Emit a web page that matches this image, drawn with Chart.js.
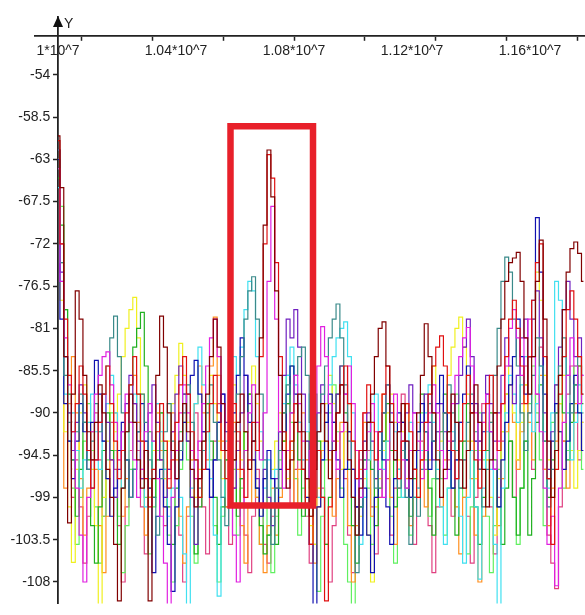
<!DOCTYPE html>
<html lang="en">
<head>
<meta charset="UTF-8">
<title>Spectrum traces</title>
<script src="https://cdn.jsdelivr.net/npm/chart.js"></script>
<style>
  html, body { margin: 0; padding: 0; background: #fff; }
  .chart-box { position: relative; width: 585px; height: 615px; }
</style>
</head>
<body>
<div class="chart-box">
  <canvas id="spectrum"></canvas>
</div>
<script>
// frequency grid of the sweep (Hz)
const freqStart = 1.0e7;
const freqStep = 13000;

// axis ticks
const yTicks = [-54, -58.5, -63, -67.5, -72, -76.5, -81, -85.5, -90, -94.5, -99, -103.5, -108];
const xLabelTicks = [1.0e7, 1.04e7, 1.08e7, 1.12e7, 1.16e7];
const xMarkTicks = [1.008e7, 1.032e7, 1.056e7, 1.08e7, 1.104e7, 1.128e7, 1.152e7, 1.176e7];

// highlight box around the peak
const boxX = [1.05847e7, 1.08644e7, 1.08644e7, 1.05847e7, 1.05847e7];
const boxY = [-59.48, -59.48, -99.85, -99.85, -59.48];

// level traces, dBm (one value per sweep step)
const traceMaroon = [
  -60.5, -66, -84, -101.7, -88, -77, -80, -86, -92, -95,
  -91, -87, -90, -96, -99, -104, -110, -98, -92, -88,
  -91, -95, -98, -94, -110, -97, -86, -79.7, -83, -90,
  -94, -97, -93, -89, -92, -96, -100, -97, -93, -88,
  -84, -80, -83, -89, -94, -98, -95, -91, -88, -92,
  -96, -93, -88, -82, -70, -62, -67, -77, -86, -94,
  -98, -95, -91, -88, -92, -97, -101, -96, -92, -89,
  -93, -97, -94, -90, -87, -91, -95, -99, -103, -98,
  -94, -91, -88, -84, -81, -80.3, -85, -91, -95, -92,
  -89, -93, -97, -94, -90, -86, -80.5, -84, -90, -95,
  -99, -96, -92, -88, -91, -95, -98, -94, -90, -87,
  -91, -96, -100, -95, -90, -85, -80, -76, -74, -73.5,
  -72.9, -76, -82, -88, -84, -76, -71.6, -80, -93, -99,
  -94, -86, -79, -75, -72.5, -71.8, -73, -76
];
const traceRed = [
  -61, -72, -80, -86, -92, -89, -85, -88, -94, -98,
  -95, -91, -88, -85, -89, -93, -97, -94, -90, -87,
  -84, -88, -93, -97, -100, -96, -92, -89, -93, -98,
  -95, -91, -87, -84, -88, -92, -95, -99, -96, -92,
  -89, -86, -90, -94, -97, -93, -89, -92, -96, -99,
  -95, -91, -94, -84, -72, -62.5, -65, -74, -84, -92,
  -96, -93, -89, -92, -96, -100, -104, -99, -94, -99,
  -110, -100, -94, -90, -87, -85, -89, -93, -97, -94,
  -90, -87, -91, -95, -92, -88, -85, -89, -94, -97,
  -93, -89, -92, -96, -99, -95, -91, -88, -85, -83,
  -81.8, -85, -90, -94, -97, -93, -89, -86, -90, -95,
  -98, -94, -89, -86, -90, -94, -89, -84, -80, -78,
  -81, -85, -89, -84, -78, -74, -72, -84, -97, -104,
  -96, -88, -84, -79, -77, -80, -84, -88
];
const traceCyan = [
  -66, -76, -88, -93, -90, -94, -98, -95, -91, -88,
  -92, -96, -93, -89, -86, -90, -94, -98, -95, -91,
  -88, -92, -96, -100, -97, -93, -89, -92, -96, -101,
  -98, -94, -99, -105, -112, -98, -89, -83, -87, -92,
  -97, -103, -109.5, -99, -93, -88, -84, -86, -83, -79,
  -76, -77, -84, -92, -98, -95, -100, -96, -92, -89,
  -86, -83, -87, -91, -95, -92, -88, -94, -99, -95,
  -91, -87, -84, -82, -81, -80.3, -84, -90, -97, -104,
  -99, -95, -91, -88, -92, -96, -93, -89, -92, -96,
  -99, -95, -91, -94, -98, -94, -90, -87, -91, -96,
  -100, -104, -98, -92, -95, -101, -106, -99, -94, -100,
  -107.7, -98, -92, -96, -104, -112, -98, -90, -86, -88,
  -91, -87, -84, -88, -92, -89, -85, -92, -98, -90,
  -76, -78, -84, -90, -95, -91, -87, -90
];
const traceTeal = [
  -62, -74, -86, -91, -95, -92, -88, -91, -96, -93,
  -89, -92, -88, -85, -82, -79.7, -84, -90, -95, -99,
  -96, -92, -88, -91, -95, -99, -103, -97, -92, -89,
  -93, -97, -94, -90, -87, -91, -95, -98, -94, -90,
  -87, -91, -95, -99, -102, -97, -92, -88, -84, -80,
  -77, -75.5, -80, -88, -95, -100, -104, -98, -94, -90,
  -87, -90, -86, -84, -83, -86, -91, -95, -92, -88,
  -85, -82, -80, -78.4, -82, -87, -93, -99, -107, -100,
  -95, -91, -94, -98, -94, -90, -87, -91, -95, -98,
  -94, -99, -104, -99, -101, -96, -92, -89, -93, -97,
  -94, -90, -87, -90, -94, -98, -95, -91, -88, -92,
  -96, -100, -96, -91, -86, -81, -76, -73.4, -75, -80,
  -85, -90, -94, -90, -86, -82, -85, -93, -100, -96,
  -90, -85, -82, -86, -90, -87, -84, -88
];
const traceGreen = [
  -65, -70, -79, -88, -95, -101, -96, -91, -95, -102,
  -106, -100, -94, -90, -94, -99, -104, -98, -92, -87,
  -83, -81, -79.3, -85, -92, -99, -95, -90, -94, -100,
  -104, -98, -92, -88, -93, -99, -105, -100, -94, -89,
  -93, -99, -104, -100, -95, -90, -95, -101, -97, -92,
  -88, -93, -98, -102, -105, -103, -100, -104, -98, -93,
  -89, -85, -89, -95, -101, -97, -92, -88, -93, -99,
  -104, -99, -93, -88, -85, -90, -96, -102, -106, -100,
  -95, -91, -96, -102, -98, -93, -89, -94, -100, -96,
  -91, -95, -101, -97, -92, -88, -92, -98, -103, -97,
  -92, -88, -92, -98, -103, -98, -93, -89, -94, -100,
  -104, -99, -94, -90, -95, -100, -104, -98, -93, -99,
  -103, -98, -93, -103, -97, -91, -87, -93, -99, -95,
  -90, -86, -90, -95, -91, -87, -85, -89
];
const traceYellow = [
  -63, -78, -92, -100, -105.9, -96, -90, -87, -91, -96,
  -102, -112, -99, -93, -89, -92, -88, -84, -81, -79,
  -77.7, -82, -88, -94, -98, -94, -90, -93, -97, -93,
  -89, -86, -82.6, -86, -91, -95, -99, -96, -92, -89,
  -86, -89, -93, -97, -94, -90, -87, -91, -95, -92,
  -88, -85, -89, -93, -97, -100, -96, -93, -90, -93,
  -97, -93, -89, -92, -96, -99, -102, -104, -98, -93,
  -89, -86, -89, -93, -96, -92, -89, -93, -97, -101,
  -97, -103, -108, -100, -97, -94, -90, -88, -91, -95,
  -92, -89, -92, -96, -99, -95, -91, -88, -85, -89,
  -93, -90, -86, -83, -81, -79.8, -83, -88, -93, -97,
  -94, -91, -95, -99, -103, -97, -92, -88, -85, -90,
  -95, -91, -87, -84, -80, -75, -78, -86, -95, -99,
  -94, -89, -86, -90, -94, -98, -94, -91
];
const traceMagenta = [
  -64, -76, -82, -87, -92, -98, -103, -108, -99, -92,
  -88, -86, -84, -83.5, -87, -91, -95, -92, -88, -91,
  -95, -99, -96, -92, -89, -93, -97, -101, -106, -112,
  -99, -94, -90, -87, -90, -94, -97, -93, -89, -85,
  -82, -80, -84, -89, -94, -98, -103, -108, -100, -94,
  -90, -87, -91, -95, -90, -76, -68, -80, -92, -98,
  -94, -90, -86, -89, -93, -97, -94, -90, -85, -80.8,
  -84, -89, -93, -96, -92, -88, -85, -89, -94, -99,
  -96, -92, -89, -92, -96, -99, -95, -91, -88, -91,
  -95, -98, -94, -90, -93, -97, -94, -90, -87, -90,
  -94, -97, -93, -89, -86, -84, -82, -80.9, -85, -90,
  -95, -91, -88, -92, -96, -93, -89, -85, -81, -79,
  -82, -86, -82, -80, -84, -88, -92, -98, -104, -101,
  -108.4, -98, -91, -86, -82, -85, -89, -86
];
const tracePurple = [
  -62, -75, -84, -90, -94, -91, -87, -90, -94, -98,
  -95, -91, -88, -91, -95, -99, -96, -92, -89, -86,
  -89, -93, -97, -94, -90, -87, -91, -95, -99, -96,
  -92, -88, -85, -88, -93, -99, -104, -97, -92, -96,
  -99, -95, -91, -88, -91, -95, -98, -94, -90, -86,
  -89, -93, -97, -100, -96, -99, -102, -97, -92, -86,
  -80, -82, -79, -83, -88, -93, -97, -94, -90, -87,
  -90, -94, -91, -88, -85, -88, -92, -96, -100, -97,
  -93, -90, -93, -97, -94, -90, -87, -90, -94, -97,
  -93, -90, -87, -90, -94, -91, -88, -91, -95, -92,
  -89, -92, -96, -93, -89, -86, -83, -80, -84, -89,
  -93, -90, -86, -89, -93, -90, -86, -82, -85, -89,
  -86, -82, -80, -84, -80, -77, -82, -90, -96, -92,
  -87, -83, -79, -76, -80, -84, -82, -86
];
const traceBlue = [
  -63, -80, -89, -93, -97, -93, -89, -92, -96, -91,
  -84.4, -88, -93, -97, -101, -98, -94, -91, -95, -99,
  -96, -92, -89, -93, -98, -107, -101, -96, -100, -104,
  -109, -100, -95, -91, -88, -86, -84.4, -88, -92, -96,
  -99, -95, -91, -88, -92, -96, -90, -86, -82, -86,
  -91, -95, -98, -101, -97, -94, -97, -100, -96, -92,
  -88, -85, -88, -92, -96, -99, -104, -112, -100, -95,
  -91, -88, -91, -95, -99, -96, -92, -96, -100, -103,
  -98, -103, -107, -99, -92, -95, -100, -104, -97, -90,
  -91, -95, -99, -96, -92, -89, -92, -96, -93, -89,
  -86, -90, -94, -98, -95, -91, -88, -85, -89, -93,
  -96, -92, -88, -92, -96, -100, -95, -91, -87, -84,
  -80, -84, -88, -84, -78, -69.2, -75, -88, -97, -93,
  -89, -92, -96, -93, -89, -86, -90, -94
];
const traceLime = [
  -64, -68, -79, -90, -98, -104, -99, -93, -89, -94,
  -100, -106, -101, -95, -90, -94, -101, -107, -102, -96,
  -91, -88, -93, -99, -105, -100, -94, -90, -96, -103,
  -108, -102, -96, -91, -95, -101, -106, -99, -93, -89,
  -95, -102, -108, -101, -95, -91, -96, -103, -98, -92,
  -88, -93, -99, -104, -100, -103, -107, -101, -95, -90,
  -86, -91, -97, -103, -98, -93, -98, -104, -109, -101,
  -95, -90, -87, -92, -98, -104, -108, -111, -103, -97,
  -93, -98, -104, -99, -94, -90, -95, -101, -106, -99,
  -94, -98, -103, -99, -94, -90, -95, -101, -97, -92,
  -97, -103, -98, -93, -88, -93, -99, -105, -100, -94,
  -90, -95, -101, -107, -102, -96, -92, -88, -93, -99,
  -104, -98, -93, -89, -85, -90, -95, -102, -97, -91,
  -87, -92, -98, -94, -89, -85, -90, -96
];
const tracePink = [
  -62, -72, -84, -93, -99, -95, -100, -106, -101, -95,
  -90, -95, -101, -97, -91, -96, -102, -108, -100, -94,
  -89, -94, -100, -105, -99, -94, -90, -95, -102, -97,
  -92, -97, -103, -108, -101, -95, -90, -94, -100, -105,
  -99, -93, -89, -94, -100, -104, -98, -93, -97, -103,
  -107, -101, -96, -100, -104, -106, -101, -98, -94, -90,
  -94, -100, -96, -91, -95, -101, -106, -100, -94, -98,
  -104, -108, -102, -96, -92, -97, -103, -107, -100, -95,
  -90, -94, -100, -105, -99, -93, -97, -103, -98, -92,
  -88, -93, -99, -104, -98, -93, -96, -102, -107, -100,
  -94, -90, -95, -101, -97, -91, -95, -101, -106, -99,
  -93, -89, -94, -100, -105, -99, -93, -88, -93, -99,
  -95, -89, -85, -90, -96, -88, -83, -96, -103, -106,
  -108.7, -100, -93, -88, -85, -90, -95, -91
];
const traceOrange = [
  -63, -74, -98, -89, -84, -90, -97, -103, -98, -92,
  -96, -102, -107, -101, -95, -90, -95, -101, -97, -91,
  -86, -91, -97, -103, -99, -94, -89, -94, -100, -96,
  -90, -95, -101, -106, -100, -94, -89, -85, -90, -95,
  -85, -79.8, -86, -93, -100, -96, -91, -96, -102, -106,
  -100, -95, -99, -104, -107, -102, -98, -103, -99, -93,
  -89, -94, -100, -96, -90, -95, -101, -106, -100, -94,
  -90, -95, -101, -97, -91, -96, -102, -108, -102, -96,
  -91, -95, -101, -97, -92, -88, -93, -99, -104, -98,
  -93, -97, -102, -96, -91, -95, -100, -95, -90, -94,
  -100, -95, -90, -94, -100, -105, -99, -93, -97, -103,
  -108, -101, -95, -91, -96, -102, -97, -92, -87, -91,
  -96, -92, -87, -91, -95, -89, -86, -96, -102, -98,
  -93, -89, -93, -98, -94, -89, -85, -90
];

// drawn first = on top
const traces = [
  [traceMaroon, '#800000'],
  [traceRed, '#e01010'],
  [traceMagenta, '#e020e0'],
  [traceTeal, '#3a8a8a'],
  [traceBlue, '#1010b0'],
  [tracePurple, '#7020c0'],
  [traceCyan, '#40e0f0'],
  [traceGreen, '#20b020'],
  [traceYellow, '#f0f020'],
  [traceOrange, '#ff9020'],
  [traceLime, '#60f060'],
  [tracePink, '#e04080']
];

function toPoints(levels) {
  return levels.map((v, i) => ({ x: freqStart + i * freqStep, y: v }));
}

const datasets = [{
  data: boxX.map((x, i) => ({ x: x, y: boxY[i] })),
  borderColor: '#e8202a',
  borderWidth: 6.5,
  borderCapStyle: 'square',
  borderJoinStyle: 'miter',
  pointRadius: 0
}];
traces.forEach(t => {
  datasets.push({
    data: toPoints(t[0]),
    borderColor: t[1],
    borderWidth: 1.2,
    stepped: 'middle',
    pointRadius: 0
  });
});

function fmtX(v) {
  if (v === 1.0e7) return '1*10^7';
  return (v / 1e7).toFixed(2) + '*10^7';
}

// arrow head and "Y" name on the vertical axis
const axisArrow = {
  id: 'axisArrow',
  afterDraw(chart) {
    const ctx = chart.ctx;
    const x0 = chart.scales.x.getPixelForValue(1.0e7);
    const top = chart.chartArea.top;
    ctx.save();
    ctx.fillStyle = '#111';
    ctx.beginPath();
    ctx.moveTo(x0, top - 1);
    ctx.lineTo(x0 - 5, top + 10);
    ctx.lineTo(x0 + 5, top + 10);
    ctx.closePath();
    ctx.fill();
    ctx.font = '14px "Liberation Sans", Arial, sans-serif';
    ctx.fillStyle = '#222';
    ctx.fillText('Y', x0 + 6, top + 11);
    ctx.restore();
  }
};

new Chart(document.getElementById('spectrum'), {
  type: 'line',
  data: { datasets: datasets },
  options: {
    responsive: true,
    maintainAspectRatio: false,
    animation: false,
    events: [],
    layout: { padding: { top: 17, left: 35, right: 0, bottom: 0 } },
    plugins: { legend: { display: false }, tooltip: { enabled: false } },
    scales: {
      x: {
        type: 'linear',
        min: 0.99220e7,
        max: 1.17864e7,
        position: { y: -49.8 },
        afterBuildTicks: axis => {
          const vals = xLabelTicks.concat(xMarkTicks.filter(v => xLabelTicks.indexOf(v) < 0));
          vals.sort((a, b) => a - b);
          axis.ticks = vals.map(v => ({ value: v }));
        },
        ticks: {
          autoSkip: false,
          maxRotation: 0,
          padding: 3,
          color: '#222',
          font: { family: '"Liberation Sans", Arial, sans-serif', size: 14 },
          callback: v => xLabelTicks.indexOf(v) >= 0 ? fmtX(v) : ''
        },
        grid: {
          drawOnChartArea: false,
          tickLength: 4,
          tickWidth: 1.5,
          tickColor: c => (c.tick && xMarkTicks.indexOf(c.tick.value) >= 0) ? '#222' : 'rgba(0,0,0,0)'
        },
        border: { color: '#222', width: 1.8 }
      },
      y: {
        type: 'linear',
        min: -110.3,
        max: -47.84,
        position: { x: 1.0e7 },
        afterBuildTicks: axis => {
          axis.ticks = yTicks.map(v => ({ value: v }));
        },
        ticks: {
          color: '#222',
          font: { family: '"Liberation Sans", Arial, sans-serif', size: 14 },
          callback: v => String(v) + '  '
        },
        grid: { drawOnChartArea: false, tickLength: 4, tickWidth: 1.5, tickColor: '#222' },
        border: { color: '#222', width: 1.8 }
      }
    }
  },
  plugins: [axisArrow]
});
</script>
</body>
</html>
